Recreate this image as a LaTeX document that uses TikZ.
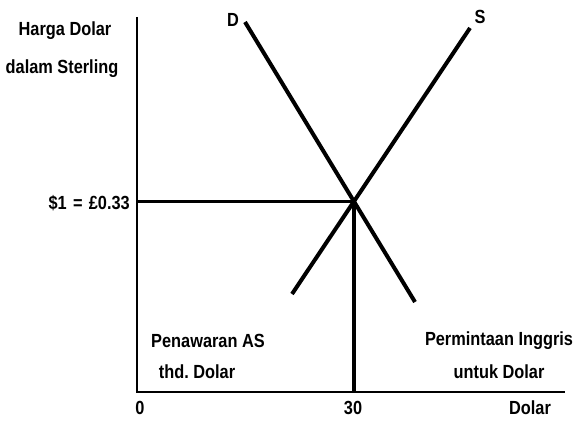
\documentclass[tikz,border=0pt]{standalone}
\usepackage{fontspec}
\setmainfont{Liberation Sans}[FakeStretch=0.86]
\frenchspacing
\usetikzlibrary{calc,positioning}
\definecolor{Ink}{HTML}{000000}
\tikzset{
  axis/.style={draw=Ink, line width=1.6pt},
  curve/.style={draw=Ink, line width=4pt},
  guide/.style={draw=Ink, line width=3.6pt},
  lbl/.style={font=\fontsize{19}{22}\selectfont\bfseries, text=Ink, inner sep=1pt}
}
\begin{document}
\begin{tikzpicture}[x=1pt,y=1pt]
    \useasboundingbox (0,0) rectangle (577,424);
    % axes
    \coordinate (O) at (137,32);
    \coordinate (ytop) at (137,407);
    \coordinate (xend) at (565,32);
    \draw[axis] (ytop)--(O)--(xend);
    % demand and supply
    \coordinate (Dtop) at (245,402);
    \coordinate (Dbot) at (415,122);
    \coordinate (Stop) at (470,396);
    \coordinate (Sbot) at (292,130);
    \draw[curve] (Dtop)--(Dbot);
    \draw[curve] (Sbot)--(Stop);
    \coordinate (E) at (intersection of Dtop--Dbot and Stop--Sbot);
    \draw[guide] (E -| O)--(E)--(E |- O);
    % labels
    \node[lbl] (hdr1) at (65,393) {Harga Dolar};
    \node[lbl] (hdr2) at (62,355) {dalam Sterling};
    \node[lbl,anchor=east] (rate) at (131,221) {\$1\,\,=\,\,£0.33};
    \node[lbl] (dlab) at (233,404) {D};
    \node[lbl] (slab) at (480,407) {S};
    \node[lbl] (pen1) at (208,83) {Penawaran AS};
    \node[lbl] (pen2) at (197,52) {thd. Dolar};
    \node[lbl] (per1) at (499,83) {Permintaan Inggris};
    \node[lbl] (per2) at (499,52) {untuk Dolar};
    \node[lbl] (zero) at (140,16) {0};
    \node[lbl] (thirty) at (353,16) {30};
    \node[lbl] (xname) at (530,16) {Dolar};
  \end{tikzpicture}
\end{document}
